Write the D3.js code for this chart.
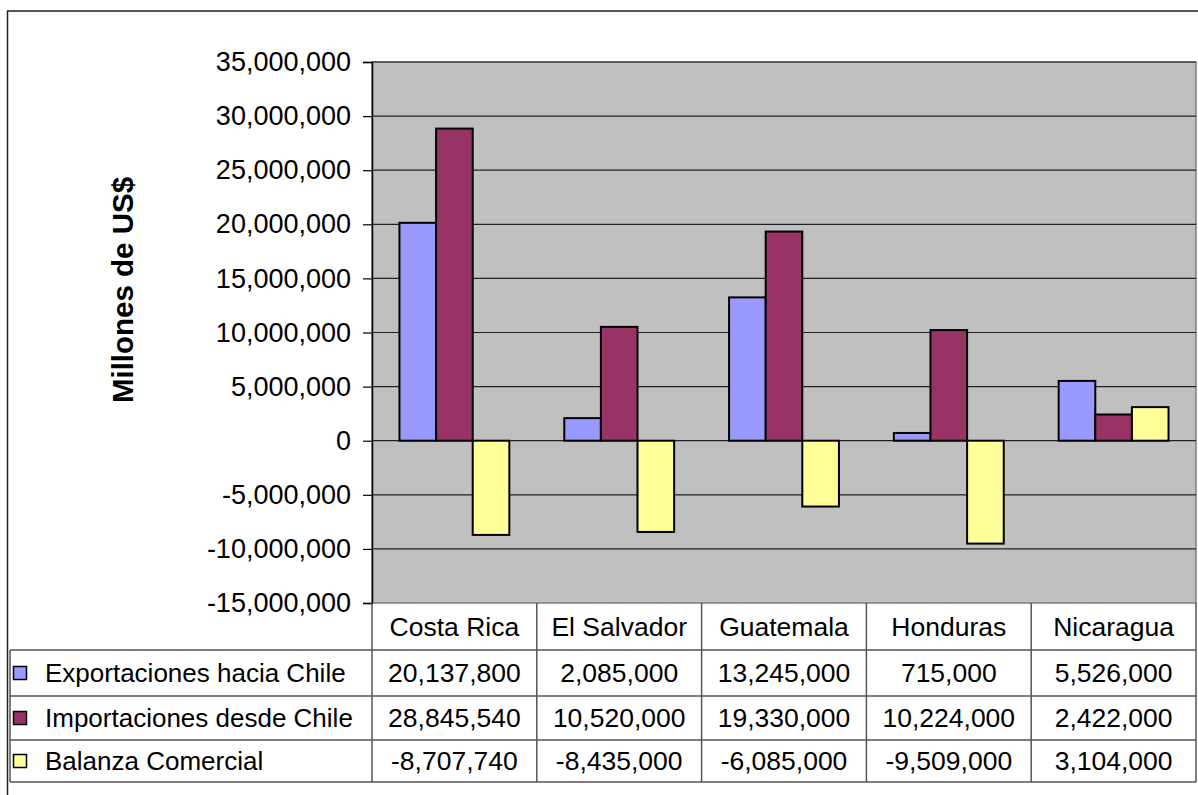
<!DOCTYPE html>
<html>
<head>
<meta charset="utf-8">
<script src="https://cdn.jsdelivr.net/npm/d3@7"></script>
<style>
  body { margin: 0; background: #fff; }
  text { font-family: Arial, "Liberation Sans", sans-serif; fill: #000; }
</style>
</head>
<body>
<div id="chart"></div>
<script>
var svgWidth = 1198;
var svgHeight = 795;

// data
var countries = ["Costa Rica", "El Salvador", "Guatemala", "Honduras", "Nicaragua"];
var seriesNames = ["Exportaciones hacia Chile", "Importaciones desde Chile", "Balanza Comercial"];
var exportaciones = [20137800, 2085000, 13245000, 715000, 5526000];
var importaciones = [28845540, 10520000, 19330000, 10224000, 2422000];
var balanza = [-8707740, -8435000, -6085000, -9509000, 3104000];
var yTicks = [-15000000, -10000000, -5000000, 0, 5000000, 10000000, 15000000, 20000000, 25000000, 30000000, 35000000];
var colors = ["#9999FF", "#993366", "#FFFF99"];

var seriesValues = [exportaciones, importaciones, balanza];

var plot = { left: 372, right: 1196, top: 62, bottom: 603 };
var rowLines = [603, 650, 696, 740, 782];
var tableLeft = 10;

// plain hyphen for negatives, like excel
var fmt = d3.formatLocale({ decimal: ".", thousands: ",", grouping: [3], currency: ["$", ""], minus: "-" }).format(",");

var svg = d3.select("#chart")
  .append("svg")
  .attr("width", svgWidth)
  .attr("height", svgHeight);

// outer chart border
svg.append("rect")
  .attr("x", 7.5).attr("y", 11)
  .attr("width", 1300).attr("height", 900)
  .attr("fill", "none")
  .attr("stroke", "#222")
  .attr("stroke-width", 1.5);

var y = d3.scaleLinear()
  .domain([-15000000, 35000000])
  .range([plot.bottom, plot.top]);

var x = d3.scaleBand()
  .domain(countries)
  .range([plot.left, plot.right])
  .padding(0);

// gap width 150% like excel
var barW = x.bandwidth() / 4.5;
var xInner = d3.scaleBand()
  .domain(d3.range(3))
  .range([barW * 0.75, barW * 0.75 + barW * 3])
  .padding(0);

// plot background
svg.append("rect")
  .attr("x", plot.left).attr("y", plot.top)
  .attr("width", plot.right - plot.left)
  .attr("height", plot.bottom - plot.top)
  .attr("fill", "#C0C0C0")
  .attr("stroke", "#808080")
  .attr("stroke-width", 1.5);

// gridlines
svg.append("g")
  .selectAll("line")
  .data(yTicks.filter(d => d > -15000000))
  .enter()
  .append("line")
  .attr("x1", plot.left).attr("x2", plot.right)
  .attr("y1", d => y(d)).attr("y2", d => y(d))
  .attr("stroke", "#222")
  .attr("stroke-width", 1.2);

// y axis
var leftAxis = d3.axisLeft(y)
  .tickValues(yTicks)
  .tickSize(9)
  .tickPadding(12)
  .tickFormat(fmt);

var yAxis = svg.append("g")
  .attr("transform", `translate(${plot.left}, 0)`)
  .call(leftAxis);
yAxis.select(".domain").attr("stroke", "#000").attr("stroke-width", 1.5);
yAxis.selectAll(".tick line").attr("stroke", "#000").attr("stroke-width", 1.2);
yAxis.selectAll(".tick text")
  .style("font-size", "27px")
  .style("font-family", "Arial, 'Liberation Sans', sans-serif")
  .attr("fill", "#000");

// bars
seriesValues.forEach(function(vals, s) {
  svg.append("g")
    .selectAll("rect")
    .data(vals)
    .enter()
    .append("rect")
    .attr("x", (d, i) => x(countries[i]) + xInner(s))
    .attr("y", d => y(Math.max(0, d)))
    .attr("width", xInner.bandwidth())
    .attr("height", d => Math.abs(y(d) - y(0)))
    .attr("fill", colors[s])
    .attr("stroke", "#000")
    .attr("stroke-width", 2);
});

// axis title
svg.append("text")
  .attr("transform", "translate(133, 290) rotate(-90)")
  .attr("text-anchor", "middle")
  .style("font-size", "29.5px")
  .style("font-weight", "bold")
  .text("Millones de US$");

// data table
var table = svg.append("g");
var lineColor = "#555";

// vertical lines
x.domain().forEach(function(c, i) {
  table.append("line")
    .attr("x1", x(c)).attr("x2", x(c))
    .attr("y1", rowLines[0]).attr("y2", rowLines[4])
    .attr("stroke", lineColor).attr("stroke-width", 1.5);
});
table.append("line")
  .attr("x1", plot.right).attr("x2", plot.right)
  .attr("y1", rowLines[0]).attr("y2", rowLines[4])
  .attr("stroke", lineColor).attr("stroke-width", 1.5);
table.append("line")
  .attr("x1", tableLeft).attr("x2", tableLeft)
  .attr("y1", rowLines[1]).attr("y2", rowLines[4])
  .attr("stroke", lineColor).attr("stroke-width", 1.5);

rowLines.slice(1).forEach(function(yy) {
  table.append("line")
    .attr("x1", tableLeft).attr("x2", plot.right)
    .attr("y1", yy).attr("y2", yy)
    .attr("stroke", lineColor).attr("stroke-width", 1.5);
});

// category labels
table.selectAll(".cat")
  .data(countries)
  .enter()
  .append("text")
  .attr("class", "cat")
  .attr("x", d => x(d) + x.bandwidth() / 2)
  .attr("y", (rowLines[0] + rowLines[1]) / 2)
  .attr("dy", "0.35em")
  .attr("text-anchor", "middle")
  .style("font-size", "26.5px")
  .text(d => d);

// values + legend keys
seriesValues.forEach(function(vals, s) {
  var cy = (rowLines[s + 1] + rowLines[s + 2]) / 2;
  table.append("rect")
    .attr("x", 13.5).attr("y", cy - 6.5)
    .attr("width", 13).attr("height", 13)
    .attr("fill", colors[s])
    .attr("stroke", "#000")
    .attr("stroke-width", 1.5);
  table.append("text")
    .attr("x", 45)
    .attr("y", cy)
    .attr("dy", "0.35em")
    .style("font-size", "26px")
    .text(seriesNames[s]);
  table.selectAll(".v" + s)
    .data(vals)
    .enter()
    .append("text")
    .attr("x", (d, i) => x(countries[i]) + x.bandwidth() / 2)
    .attr("y", cy)
    .attr("dy", "0.35em")
    .attr("text-anchor", "middle")
    .style("font-size", "26.5px")
    .text(d => fmt(d));
});
</script>
</body>
</html>
